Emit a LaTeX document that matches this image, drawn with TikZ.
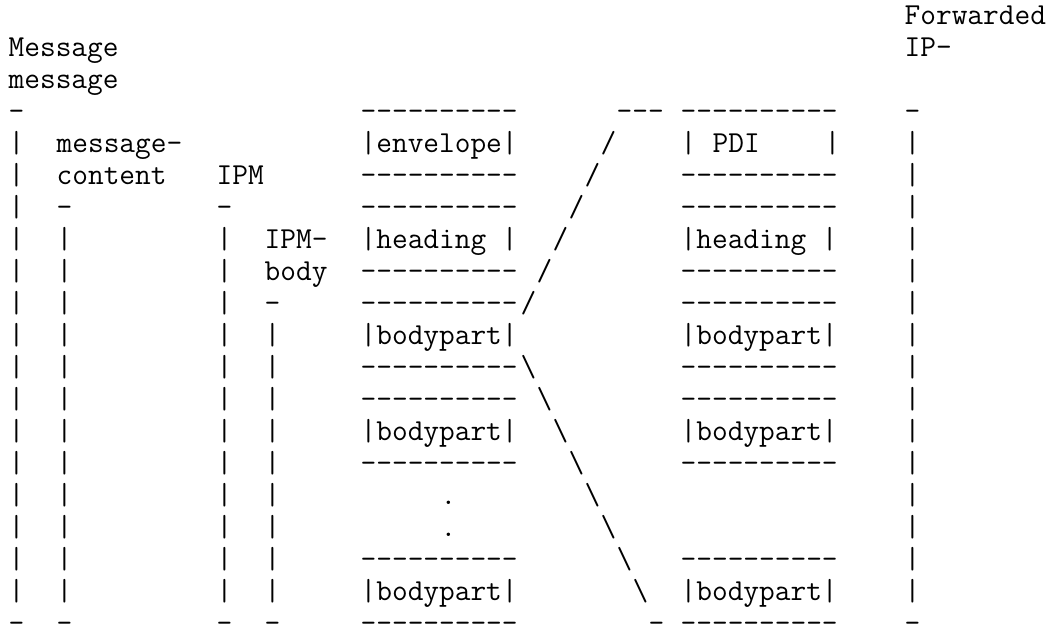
\documentclass[tikz,border=0pt]{standalone}
\newcommand{\hy}{-\kern0pt}
\newcommand{\dashrow}{\hy\hy\hy\hy\hy\hy\hy\hy\hy\hy}
\newcommand{\bodypart}{|bodypart|}
\begin{document}
\begin{tikzpicture}[x=12pt,y=-24pt,
    chars/.style={anchor=base west, inner sep=0pt, outer sep=0pt,
      font=\ttfamily\fontsize{22.86}{24}\selectfont}]
  % Sayfa sınırı
  \fill[white] (-6.5pt,18.2pt) rectangle (784pt,-452.8pt);
  \useasboundingbox (-6.5pt,18.2pt) rectangle (784pt,-452.8pt);

  % Başlıklar
  \node[chars] (msg) at (0,1) {Message};
  \node[chars] (msg2) at (0,2) {message};
  \node[chars] (fwd) at (56,0) {Forwarded};
  \node[chars] (fwd2) at (56,1) {IP-};
  \node[chars] (mc) at (3,4) {message-};
  \node[chars] (mc2) at (3,5) {content};
  \node[chars] (ipm) at (13,5) {IPM};
  \node[chars] (ipmb) at (16,7) {IPM-};
  \node[chars] (ipmb2) at (16,8) {body};

  % Parantez uçları
  \foreach \c in {0,56} \node[chars] (top-\c) at (\c,3) {-};
  \foreach \c in {3,13} \node[chars] (top-\c) at (\c,6) {-};
  \node[chars] (top-16) at (16,9) {-};
  \foreach \c in {0,3,13,16,40,56} \node[chars] (bot-\c) at (\c,19) {-};

  % Dikey çizgiler
  \foreach \r in {4,...,18} {
    \node[chars] (bar-0-\r) at (0,\r) {|};
    \node[chars] (bar-56-\r) at (56,\r) {|};
  }
  \foreach \r in {7,...,18} {
    \node[chars] (bar-3-\r) at (3,\r) {|};
    \node[chars] (bar-13-\r) at (13,\r) {|};
  }
  \foreach \r in {10,...,18} \node[chars] (bar-16-\r) at (16,\r) {|};

  % Kutular
  \foreach \r in {3,5,6,8,9,11,12,14,17,19} {
    \node[chars] (left-\r) at (22,\r) {\dashrow};
    \node[chars] (right-\r) at (42,\r) {\dashrow};
  }
  \node[chars] (env) at (22,4) {|envelope|};
  \node[chars] (head) at (22,7) {|heading |};
  \foreach \r in {10,13,18} \node[chars] (bp-\r) at (22,\r) {\bodypart};
  \node[chars] (pdi-l) at (42,4) {|};
  \node[chars] (pdi) at (44,4) {PDI};
  \node[chars] (pdi-r) at (51,4) {|};
  \node[chars] (head2) at (42,7) {|heading |};
  \foreach \r in {10,13,18} \node[chars] (bp2-\r) at (42,\r) {\bodypart};

  % Noktalar
  \node[chars] (dot-a) at (27,15) {.};
  \node[chars] (dot-b) at (27,16) {.};

  % Eğik çizgiler
  \node[chars] (top-38) at (38,3) {\hy\hy\hy};
  \foreach \r/\c in {4/37,5/36,6/35,7/34,8/33,9/32}
    \node[chars] (sl-\r) at (\c,\r) {/};
  \foreach \r/\c in {11/32,12/33,13/34,14/35,15/36,16/37,17/38,18/39}
    \node[chars] (bs-\r) at (\c,\r) {\textbackslash};
\end{tikzpicture}
\end{document}
